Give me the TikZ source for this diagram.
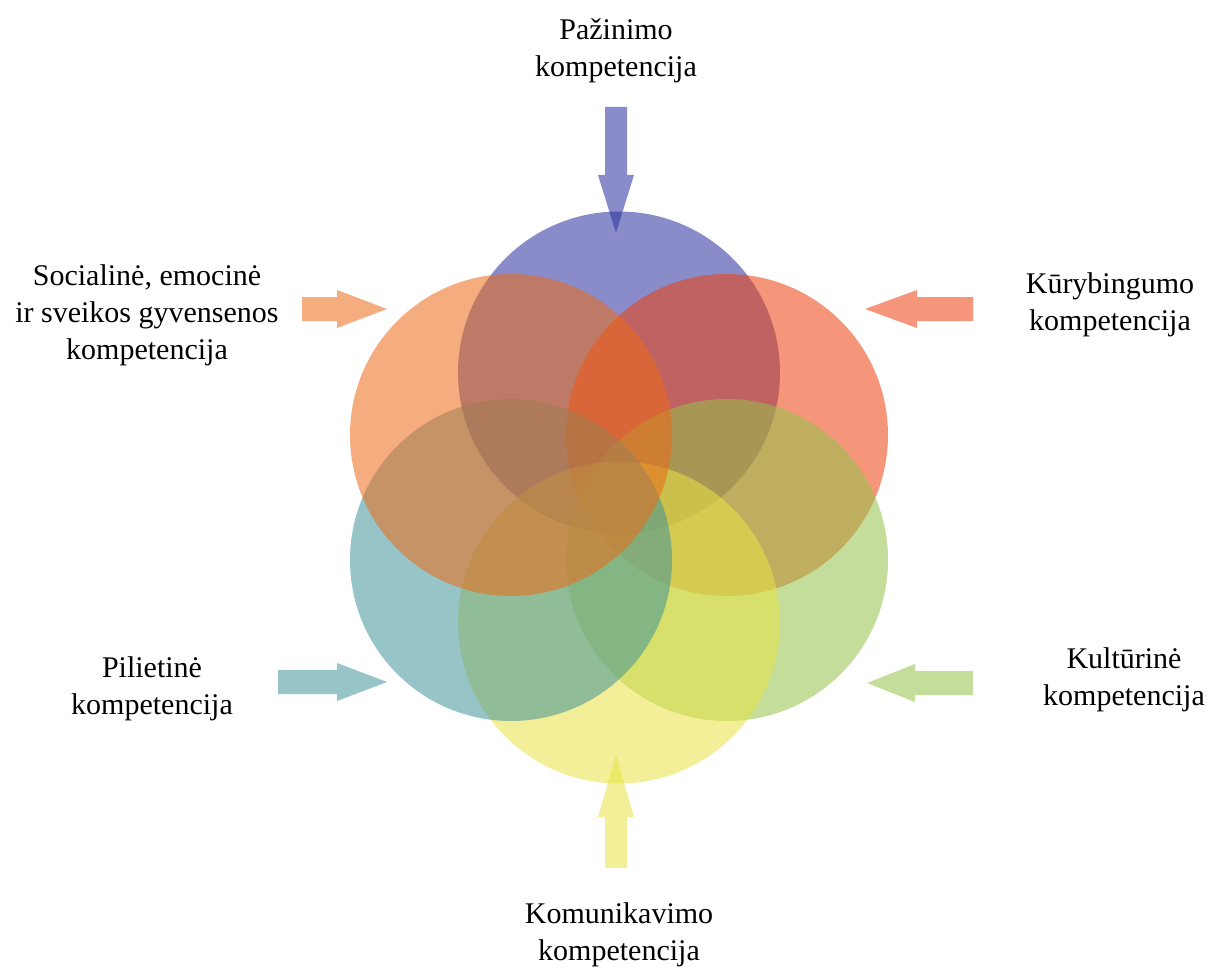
\documentclass[tikz,border=0pt]{standalone}
\usepackage{fontspec}
\setmainfont{Liberation Serif}
\begin{document}
\begin{tikzpicture}[x=1pt,y=-1pt,
  disc/.style={fill=#1,fill opacity=0.55,draw=none},
  blockarrow/.style={fill=#1,fill opacity=0.55,draw=none},
  lbl/.style={align=center,inner sep=0pt,font=\fontsize{30}{37}\selectfont}]
\definecolor{cblue}{rgb}{0.16,0.18,0.62}
\definecolor{corange}{rgb}{0.93,0.42,0.09}
\definecolor{cred}{rgb}{0.93,0.25,0.05}
\definecolor{cteal}{rgb}{0.25,0.58,0.60}
\definecolor{cgreen}{rgb}{0.58,0.76,0.29}
\definecolor{cyellow}{rgb}{0.91,0.89,0.27}
\useasboundingbox (0,0) rectangle (1208,971);
\fill[white] (0,0) rectangle (1208,971);
% circles (centre 619,497.5; hex radius 125; r = 161)
\coordinate (O) at (619,497.5);
\fill[disc=cblue]   (619,372.5) circle[radius=161];
\fill[disc=cred]    (727,435)   circle[radius=161];
\fill[disc=cgreen]  (727,560)   circle[radius=161];
\fill[disc=cyellow] (619,622.5) circle[radius=161];
\fill[disc=cteal]   (511,560)   circle[radius=161];
\fill[disc=corange] (511,435)   circle[radius=161];
% arrows
% top (down)
\fill[blockarrow=cblue] (605,107) -- (627,107) -- (627,175) -- (634,175) -- (616,233) -- (598,175) -- (605,175) -- cycle;
% bottom (up)
\fill[blockarrow=cyellow] (605,868) -- (627,868) -- (627,817) -- (634,817) -- (616,755) -- (598,817) -- (605,817) -- cycle;
% left orange (right-pointing)
\fill[blockarrow=corange] (302,297) -- (337,297) -- (337,290) -- (387,309) -- (337,328) -- (337,321) -- (302,321) -- cycle;
% right red (left-pointing)
\fill[blockarrow=cred] (973,297) -- (917,297) -- (917,290) -- (865,309) -- (917,328) -- (917,321) -- (973,321) -- cycle;
% left teal
\fill[blockarrow=cteal] (278,670) -- (337,670) -- (337,663) -- (387,682) -- (337,701) -- (337,694) -- (278,694) -- cycle;
% right green
\fill[blockarrow=cgreen] (973,671) -- (915,671) -- (915,664) -- (867,683) -- (915,702) -- (915,695) -- (973,695) -- cycle;
% labels
\node[lbl] (paz) at (616,51) {Pažinimo\\kompetencija};
\node[lbl] (soc) at (147,315) {Socialinė, emocinė\\ir sveikos gyvensenos\\kompetencija};
\node[lbl] (kur) at (1110,305) {Kūrybingumo\\kompetencija};
\node[lbl] (pil) at (152,689) {Pilietinė\\kompetencija};
\node[lbl] (kul) at (1124,680) {Kultūrinė\\kompetencija};
\node[lbl] (kom) at (619,935) {Komunikavimo\\kompetencija};
\end{tikzpicture}
\end{document}
